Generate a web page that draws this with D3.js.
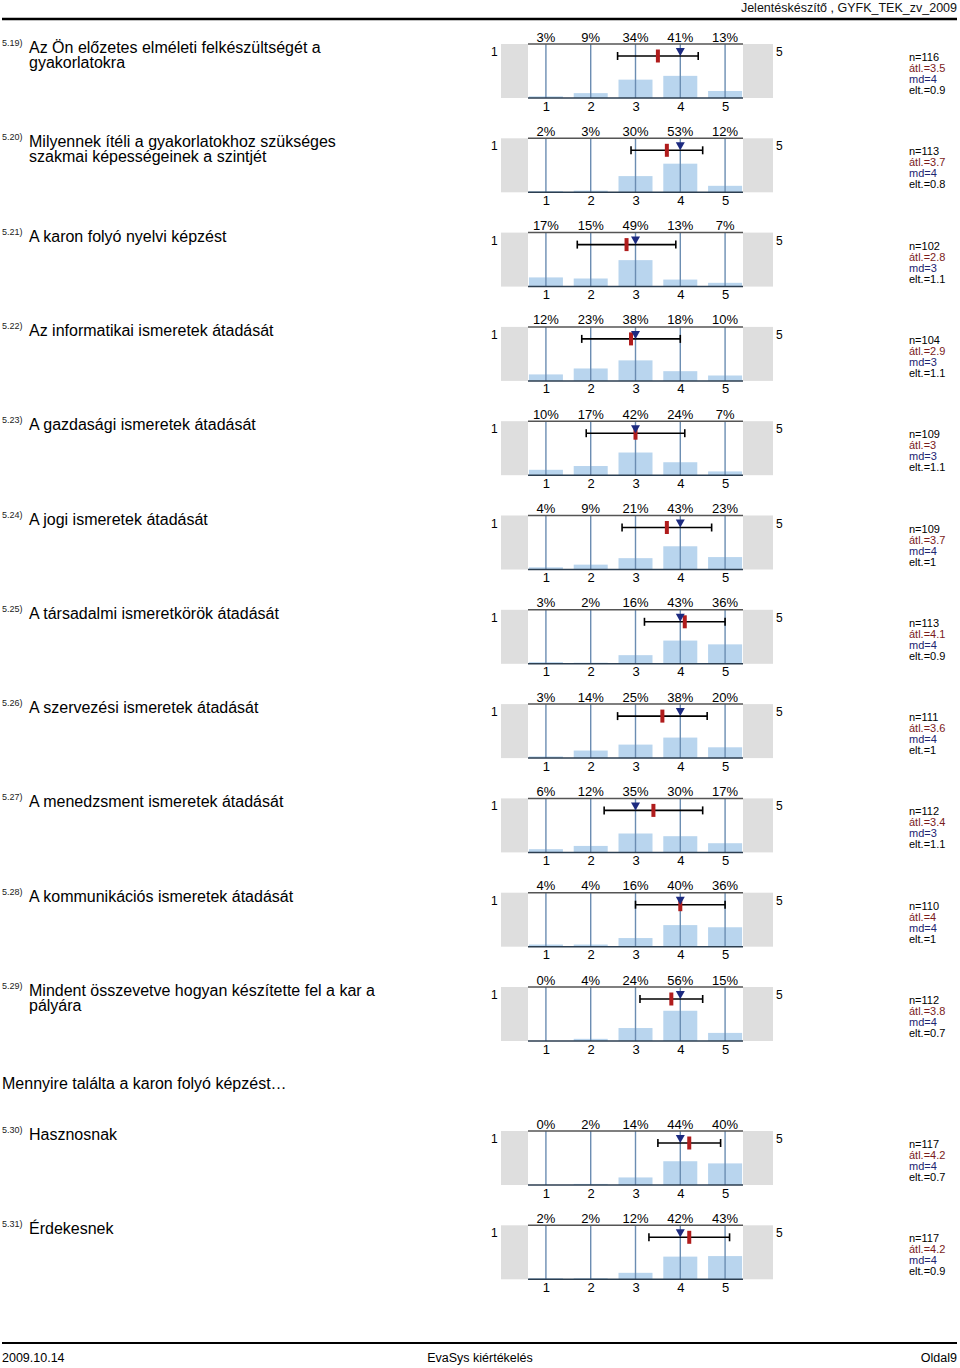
<!DOCTYPE html>
<html>
<head>
<meta charset="utf-8">
<script src="https://cdn.jsdelivr.net/npm/d3@7"></script>
<style>
  body { margin: 0; background: #fff; }
  svg text { font-family: "Liberation Sans", Arial, sans-serif; }
  .narrow { font-family: "Liberation Sans Narrow", "Liberation Sans", Arial, sans-serif !important; }
</style>
</head>
<body>
<script>

// ---- data ----
var qNums   = ["5.19)", "5.20)", "5.21)", "5.22)", "5.23)", "5.24)", "5.25)",
               "5.26)", "5.27)", "5.28)", "5.29)", "5.30)", "5.31)"];
var qTexts  = [
    ["Az Ön előzetes elméleti felkészültségét a", "gyakorlatokra"],
    ["Milyennek ítéli a gyakorlatokhoz szükséges", "szakmai képességeinek a szintjét"],
    ["A karon folyó nyelvi képzést"],
    ["Az informatikai ismeretek átadását"],
    ["A gazdasági ismeretek átadását"],
    ["A jogi ismeretek átadását"],
    ["A társadalmi ismeretkörök átadását"],
    ["A szervezési ismeretek átadását"],
    ["A menedzsment ismeretek átadását"],
    ["A kommunikációs ismeretek átadását"],
    ["Mindent összevetve hogyan készítette fel a kar a", "pályára"],
    ["Hasznosnak"],
    ["Érdekesnek"]
];
var pcts    = [
    [3, 9, 34, 41, 13],
    [2, 3, 30, 53, 12],
    [17, 15, 49, 13, 7],
    [12, 23, 38, 18, 10],
    [10, 17, 42, 24, 7],
    [4, 9, 21, 43, 23],
    [3, 2, 16, 43, 36],
    [3, 14, 25, 38, 20],
    [6, 12, 35, 30, 17],
    [4, 4, 16, 40, 36],
    [0, 4, 24, 56, 15],
    [0, 2, 14, 44, 40],
    [2, 2, 12, 42, 43]
];
var nVals   = [116, 113, 102, 104, 109, 109, 113, 111, 112, 110, 112, 117, 117];
var means   = [3.5, 3.7, 2.8, 2.9, 3, 3.7, 4.1, 3.6, 3.4, 4, 3.8, 4.2, 4.2];
var medians = [4, 4, 3, 3, 3, 4, 4, 4, 3, 4, 4, 4, 4];
var sds     = [0.9, 0.8, 1.1, 1.1, 1.1, 1, 0.9, 1, 1.1, 1, 0.7, 0.7, 0.9];
var scaleVals  = [1, 2, 3, 4, 5];
var sectionTitle = "Mennyire találta a karon folyó képzést…";

// ---- page ----
var W = 960, H = 1368;
var svg = d3.select("body").append("svg")
    .attr("width", W).attr("height", H);

var rowStep   = 94.3;
var panelH    = 54;
var sectionAt = 11;          // rows from here on come after the heading

var x = d3.scaleLinear().domain([0.6, 5.4]).range([528, 743]);
var y = d3.scaleLinear().domain([0, 100]).range([panelH, 0]);

function rowTop(i) {
    return 44 + i * rowStep + (i >= sectionAt ? 49.7 : 0);
}

// header
svg.append("text").attr("class", "narrow")
    .attr("x", 957).attr("y", 12)
    .attr("text-anchor", "end").attr("font-size", 12.5).attr("fill", "#111")
    .text("Jelentéskészítő , GYFK_TEK_zv_2009");
svg.append("line").attr("x1", 2).attr("x2", 957).attr("y1", 19).attr("y2", 19)
    .attr("stroke", "#000").attr("stroke-width", 2.5);

// footer
svg.append("line").attr("x1", 2).attr("x2", 957).attr("y1", 1343).attr("y2", 1343)
    .attr("stroke", "#000").attr("stroke-width", 2);
svg.append("text").attr("class", "narrow").attr("x", 2).attr("y", 1362)
    .attr("font-size", 12.5).text("2009.10.14");
svg.append("text").attr("class", "narrow").attr("x", 480).attr("y", 1362)
    .attr("text-anchor", "middle").attr("font-size", 12.5).text("EvaSys kiértékelés");
svg.append("text").attr("class", "narrow").attr("x", 957).attr("y", 1362)
    .attr("text-anchor", "end").attr("font-size", 12.5).text("Oldal9");

// section heading
svg.append("text").attr("x", 2).attr("y", 1089)
    .attr("font-size", 16).attr("fill", "#000").text(sectionTitle);

// ---- one row per question ----
qNums.forEach(function(num, i) {
    var g = svg.append("g").attr("transform", "translate(0," + rowTop(i) + ")");

    // question number and text
    g.append("text").attr("x", 2).attr("y", 2)
        .attr("font-size", 9).attr("fill", "#222").text(num);
    qTexts[i].forEach(function(line, k) {
        g.append("text").attr("x", 29).attr("y", 9 + k * 15)
            .attr("font-size", 16).attr("fill", "#000").text(line);
    });

    // side boxes
    g.append("rect").attr("x", 501).attr("y", 0)
        .attr("width", x(0.6) - 501).attr("height", panelH).attr("fill", "#dedede");
    g.append("rect").attr("x", x(5.4)).attr("y", 0)
        .attr("width", 773 - x(5.4)).attr("height", panelH).attr("fill", "#dedede");
    g.append("text").attr("x", 491).attr("y", 12).attr("font-size", 12).text("1");
    g.append("text").attr("x", 776).attr("y", 12).attr("font-size", 12).text("5");

    // bars
    g.selectAll("rect.bar").data(pcts[i]).enter().append("rect")
        .attr("class", "bar")
        .attr("x", function(d, j) { return x(scaleVals[j]) - 17; })
        .attr("width", 34)
        .attr("y", function(d) { return y(d); })
        .attr("height", function(d) { return panelH - y(d); })
        .attr("fill", "#b9d5ee");

    // grid lines
    g.selectAll("line.grid").data(scaleVals).enter().append("line")
        .attr("class", "grid")
        .attr("x1", function(d) { return x(d); })
        .attr("x2", function(d) { return x(d); })
        .attr("y1", 0).attr("y2", panelH)
        .attr("stroke", "#6b8db2").attr("stroke-width", 1.4);

    // frame lines
    g.append("line").attr("x1", x(0.6)).attr("x2", x(5.4)).attr("y1", 0).attr("y2", 0)
        .attr("stroke", "#555").attr("stroke-width", 1.5);
    g.append("line").attr("x1", x(0.6)).attr("x2", x(5.4)).attr("y1", panelH).attr("y2", panelH)
        .attr("stroke", "#2c3e50").attr("stroke-width", 1.5);

    // percentages above
    g.selectAll("text.pct").data(pcts[i]).enter().append("text")
        .attr("class", "pct")
        .attr("x", function(d, j) { return x(scaleVals[j]); })
        .attr("y", -2.5)
        .attr("text-anchor", "middle").attr("font-size", 13)
        .text(function(d) { return d + "%"; });

    // scale ticks below
    var ax = d3.axisBottom(x).tickValues(scaleVals).tickSize(0).tickPadding(0)
        .tickFormat(d3.format("d"));
    var axg = g.append("g").attr("transform", "translate(0," + panelH + ")").call(ax);
    axg.select(".domain").remove();
    axg.selectAll("text").attr("font-size", 13).attr("fill", "#000")
        .attr("dy", null).attr("y", 12.5);

    // std dev bar
    var ey = 12;
    var lo = x(means[i] - sds[i]), hi = x(means[i] + sds[i]);
    g.append("line").attr("x1", lo).attr("x2", hi).attr("y1", ey).attr("y2", ey)
        .attr("stroke", "#000").attr("stroke-width", 1.6);
    [lo, hi].forEach(function(ex) {
        g.append("line").attr("x1", ex).attr("x2", ex).attr("y1", ey - 4).attr("y2", ey + 4)
            .attr("stroke", "#000").attr("stroke-width", 1.6);
    });

    // mean marker
    g.append("rect").attr("x", x(means[i]) - 2).attr("y", ey - 6.5)
        .attr("width", 4).attr("height", 13).attr("fill", "#b01c1c");

    // median triangle
    var mx = x(medians[i]);
    g.append("path")
        .attr("d", "M" + (mx - 4.5) + "," + (ey - 8) + "L" + (mx + 4.5) + "," + (ey - 8) +
                   "L" + mx + "," + ey + "Z")
        .attr("fill", "#1c2a80");

    // stats
    var stats = [
        {t: "n=" + nVals[i], c: "#000"},
        {t: "átl.=" + means[i], c: "#7a1a1a"},
        {t: "md=" + medians[i], c: "#1c2470"},
        {t: "elt.=" + sds[i], c: "#000"}
    ];
    g.selectAll("text.stat").data(stats).enter().append("text")
        .attr("class", "stat")
        .attr("x", 909).attr("y", function(d, k) { return 17 + k * 11; })
        .attr("font-size", 11).attr("fill", function(d) { return d.c; })
        .text(function(d) { return d.t; });
});

</script>
</body>
</html>
